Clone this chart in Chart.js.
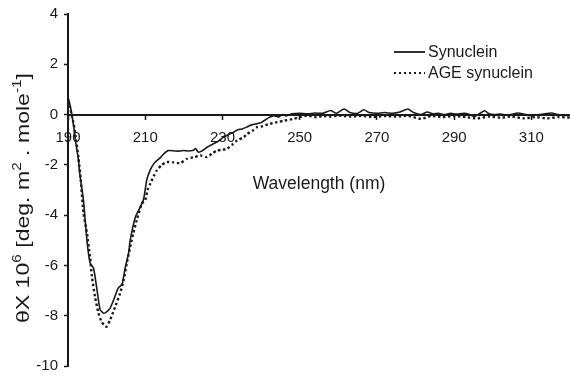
<!DOCTYPE html>
<html>
<head>
<meta charset="utf-8">
<script src="https://cdn.jsdelivr.net/npm/chart.js@4"></script>
<style>
  html, body { margin: 0; padding: 0; background: #fff; }
  #wrap { width: 570px; height: 376px; }
</style>
</head>
<body>
<div id="wrap"><canvas id="cdChart"></canvas></div>
<script>
// wavelength (nm) and ellipticity values
const synWl = [190, 190.5, 191, 191.5, 192, 192.7, 193, 194, 194.9, 195.7, 196.6, 197.4, 198.3, 199.2, 200, 200.9, 201.8, 203, 204, 204.8, 205.7, 206.1, 207.4, 208.7, 209.6, 210.4, 211.3, 212.2, 213, 214, 214.8, 216, 217.8, 219, 220, 221, 222.5, 223, 223.8, 225, 226, 227.7, 229, 230.3, 231.5, 232.9, 234, 235.1, 236.5, 237.7, 239, 240, 241, 242, 243.3, 244.5, 245.5, 246.5, 248, 250, 252, 254, 256, 258, 259.5, 261.5, 263, 265, 266.6, 268, 270, 272, 274, 276, 278, 279.5, 281.4, 283, 284.5, 286, 287.4, 289, 290.5, 292.6, 294, 295.2, 296.5, 297.9, 299, 300.5, 302, 304, 306.5, 308, 310, 312, 313.5, 315.2, 317, 319.5, 320];
const synVal = [0.7, 0.4, 0.0, -0.5, -1.1, -1.8, -2.3, -3.4, -5.0, -5.9, -6.1, -6.85, -7.75, -7.9, -7.85, -7.7, -7.38, -6.9, -6.75, -6.1, -5.5, -5.0, -4.1, -3.68, -3.35, -2.6, -2.2, -1.96, -1.83, -1.7, -1.56, -1.43, -1.45, -1.45, -1.43, -1.45, -1.42, -1.35, -1.5, -1.42, -1.3, -1.16, -1.05, -0.9, -0.8, -0.7, -0.6, -0.57, -0.48, -0.4, -0.36, -0.32, -0.22, -0.12, -0.04, -0.1, 0.0, -0.05, 0.03, 0.05, 0.03, 0.06, 0.05, 0.16, 0.05, 0.22, 0.08, 0.05, 0.19, 0.08, 0.05, 0.08, 0.05, 0.1, 0.22, 0.08, 0.0, 0.1, 0.03, 0.05, 0.0, 0.05, 0.02, 0.05, 0.0, -0.08, 0.03, 0.15, 0.03, 0.0, 0.02, -0.02, 0.06, 0.02, -0.04, 0.0, 0.03, 0.06, 0.0, -0.04, 0.0];

const ageWl = [190, 190.5, 191, 191.5, 192, 192.7, 193.3, 194, 194.9, 195.7, 196.2, 197, 197.9, 198.7, 199.5, 200, 200.9, 202.2, 203.5, 204.4, 205.2, 206.1, 206.9, 207.8, 209.1, 210, 210.6, 211.3, 212.2, 213, 214.3, 215.6, 217.3, 219.1, 220.8, 222.5, 224.3, 226, 227.3, 228.6, 230, 231.2, 232.5, 233.8, 235.5, 236.4, 237.7, 239, 240, 242, 244.2, 246, 248.5, 250, 252, 254, 256, 258, 260, 263, 266, 269, 272, 275, 278, 281.4, 284, 287, 290, 293, 296, 299, 302, 305, 308, 311, 314, 317, 320];
const ageVal = [0.55, 0.3, -0.05, -0.4, -0.9, -1.7, -2.6, -3.9, -4.7, -5.66, -6.45, -7.25, -7.9, -8.24, -8.4, -8.44, -8.17, -7.65, -7.1, -6.6, -5.93, -5.27, -4.73, -4.2, -3.55, -3.4, -3.0, -2.75, -2.45, -2.22, -2.0, -1.89, -1.9, -1.93, -1.76, -1.7, -1.63, -1.69, -1.55, -1.43, -1.4, -1.36, -1.2, -1.03, -0.9, -0.77, -0.65, -0.5, -0.48, -0.38, -0.3, -0.24, -0.17, -0.1, -0.04, -0.1, -0.06, -0.08, -0.04, -0.08, -0.05, -0.1, -0.06, -0.08, -0.05, -0.17, -0.06, -0.1, -0.06, -0.1, -0.15, -0.08, -0.12, -0.08, -0.15, -0.1, -0.15, -0.1, -0.12];

const xTicks = [190, 210, 230, 250, 270, 290, 310];
const yTicks = [4, 2, 0, -2, -4, -6, -8, -10];
const seriesNames = ['Synuclein', 'AGE synuclein'];
// y title pieces: [text, isSuperscript]
const yTitleParts = [['θX 10', false], ['6', true], [' [deg. m', false], ['2', true], [' . mole', false], ['-1', true], [']', false]];

const FONT = "'Liberation Sans', Arial, sans-serif";
const INK = '#1a1a1a';

function toPoints(xs, ys) {
    return xs.map((x, i) => ({ x: x, y: ys[i] }));
}

// small legend in the upper right, drawn by hand like the original figure
const cornerLegend = {
    id: 'cornerLegend',
    afterDraw(chart) {
        const ctx = chart.ctx;
        ctx.save();
        ctx.font = '16px ' + FONT;
        ctx.fillStyle = INK;
        ctx.textBaseline = 'middle';
        chart.data.datasets.forEach((ds, i) => {
            const y = 52 + i * 21;
            ctx.strokeStyle = ds.borderColor;
            ctx.lineWidth = i === 0 ? 1.8 : 2;
            ctx.setLineDash(i === 0 ? [] : [2, 3]);
            ctx.beginPath();
            ctx.moveTo(394, y);
            ctx.lineTo(425, y);
            ctx.stroke();
            ctx.fillText(ds.label, 428, y + 1);
        });
        ctx.restore();
    }
};

// rotated y title with real superscripts
const yTitle = {
    id: 'yTitle',
    afterDraw(chart) {
        const ctx = chart.ctx;
        const base = '18px ' + FONT, sup = '12px ' + FONT;
        ctx.save();
        let total = 0;
        yTitleParts.forEach(p => { ctx.font = p[1] ? sup : base; total += ctx.measureText(p[0]).width; });
        const stretch = 250 / total;
        ctx.translate(29, 198);
        ctx.rotate(-Math.PI / 2);
        ctx.scale(stretch, 1);
        ctx.fillStyle = INK;
        ctx.textBaseline = 'alphabetic';
        let x = -total / 2;
        yTitleParts.forEach(p => {
            ctx.font = p[1] ? sup : base;
            ctx.fillText(p[0], x, p[1] ? -8 : 0);
            x += ctx.measureText(p[0]).width;
        });
        ctx.restore();
    }
};

new Chart(document.getElementById('cdChart'), {
    type: 'line',
    data: {
        datasets: [
            {
                label: seriesNames[0],
                data: toPoints(synWl, synVal),
                borderColor: INK,
                borderWidth: 1.6,
                pointRadius: 0,
                tension: 0.2
            },
            {
                label: seriesNames[1],
                data: toPoints(ageWl, ageVal),
                borderColor: INK,
                borderWidth: 2.4,
                borderDash: [2.4, 2.6],
                pointRadius: 0,
                tension: 0.2
            }
        ]
    },
    options: {
        responsive: true,
        maintainAspectRatio: false,
        animation: false,
        layout: { padding: { top: 14, bottom: 10, right: 0, left: 0 } },
        plugins: {
            legend: { display: false },
            tooltip: { enabled: false }
        },
        scales: {
            x: {
                type: 'linear',
                min: 190,
                max: 320,
                position: { y: 0 },
                afterBuildTicks: scale => { scale.ticks = xTicks.map(v => ({ value: v })); },
                grid: { drawOnChartArea: false, tickLength: 4, tickColor: INK, tickWidth: 1.5 },
                border: { color: INK, width: 2 },
                ticks: { color: INK, font: { family: FONT, size: 15 }, padding: 10, maxRotation: 0 },
                title: {
                    display: true,
                    text: 'Wavelength (nm)',
                    color: INK,
                    font: { family: FONT, size: 17.5 },
                    padding: { top: 17, bottom: 0 }
                }
            },
            y: {
                type: 'linear',
                min: -10,
                max: 4,
                afterBuildTicks: scale => { scale.ticks = yTicks.map(v => ({ value: v })); },
                afterFit: scale => {
                    scale.width = 68;
                    scale.paddingTop = 0;
                    scale.paddingBottom = 0;
                },
                grid: { drawOnChartArea: false, tickLength: 4, tickColor: INK, tickWidth: 1.5 },
                border: { color: INK, width: 2 },
                ticks: { color: INK, font: { family: FONT, size: 15 }, padding: 6 }
            }
        }
    },
    plugins: [cornerLegend, yTitle]
});
</script>
</body>
</html>
